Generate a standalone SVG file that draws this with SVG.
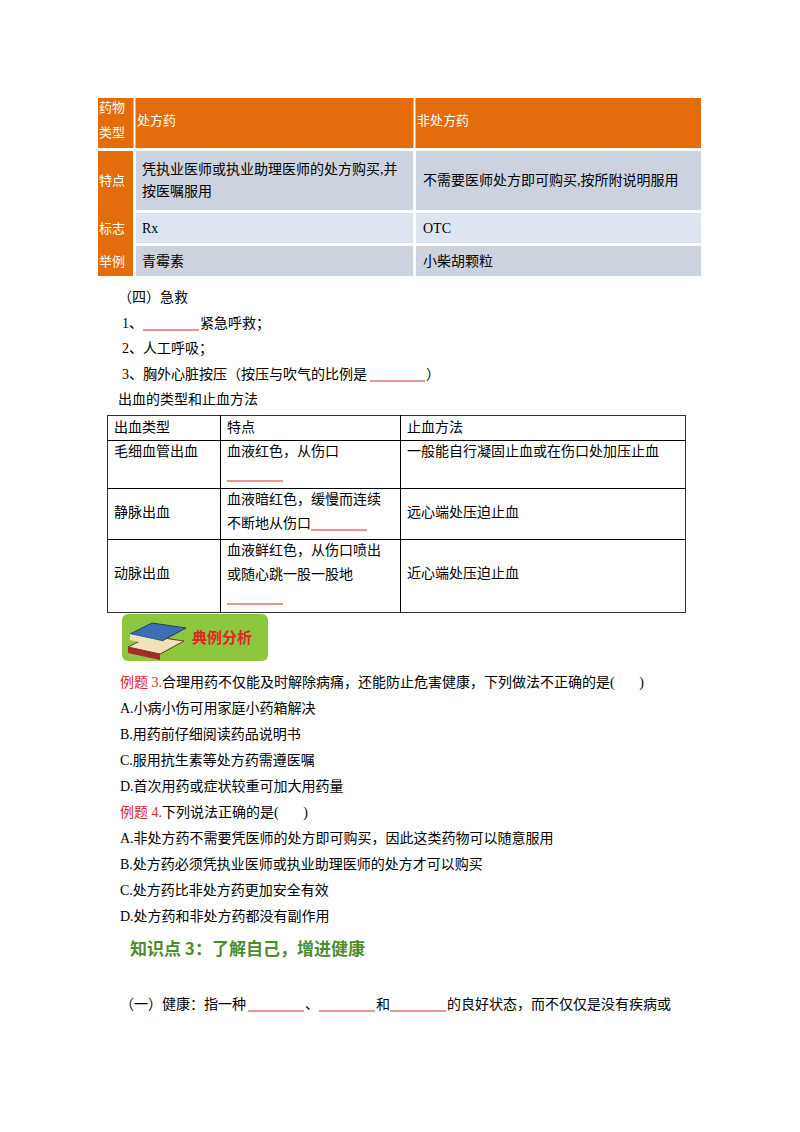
<svg xmlns="http://www.w3.org/2000/svg" width="800" height="1132" viewBox="0 0 800 1132">
<style>
text{font-family:"Liberation Serif","Noto Sans CJK SC",serif;font-size:14px;fill:#000;white-space:pre}
.o{fill:#E46C0A}.g{fill:#CDD3DE}.l{fill:#DCE5F0}
.w{fill:#fff;font-family:"Noto Sans CJK SC",sans-serif;font-size:13px}
.r{fill:#E0262B}
.u{stroke:#E0262B;stroke-width:1}
.k{stroke:#000;stroke-width:1}
.tb{fill:none;stroke:#333;stroke-width:1}
</style>
<rect width="800" height="1132" fill="#fff"/>
<g id="table1">
<rect class="o" x="98" y="98" width="603" height="50"/>
<rect class="o" x="98" y="151" width="35" height="125"/>
<rect class="g" x="136" y="151" width="277" height="59"/><rect class="g" x="416" y="151" width="285" height="59"/>
<rect class="l" x="136" y="213" width="277" height="30"/><rect class="l" x="416" y="213" width="285" height="30"/>
<rect class="g" x="136" y="246" width="277" height="30"/><rect class="g" x="416" y="246" width="285" height="30"/>
<line x1="134.5" y1="98" x2="134.5" y2="148" stroke="#fff" stroke-width="2"/>
<line x1="414.5" y1="98" x2="414.5" y2="148" stroke="#fff" stroke-width="2"/>
<text class="w" x="99" y="112">药物</text><text class="w" x="99" y="137">类型</text>
<text class="w" x="137" y="125">处方药</text><text class="w" x="417" y="125">非处方药</text>
<text class="w" x="99" y="185">特点</text><text class="w" x="99" y="233">标志</text><text class="w" x="99" y="266">举例</text>
<text x="142" y="174">凭执业医师或执业助理医师的处方购买,并</text>
<text x="142" y="196">按医嘱服用</text>
<text x="423" y="185">不需要医师处方即可购买,按所附说明服用</text>
<text x="142" y="233">Rx</text><text x="423" y="233">OTC</text>
<text x="142" y="266">青霉素</text><text x="423" y="266">小柴胡颗粒</text>
</g>
<g id="firstaid">
<text x="118" y="302">（四）急救</text>
<text x="122" y="328">1、</text><line class="u" x1="143" y1="330" x2="199" y2="330"/><text x="200" y="328">紧急呼救；</text>
<text x="122" y="353">2、人工呼吸；</text>
<text x="122" y="379">3、胸外心脏按压（按压与吹气的比例是</text><line class="u" x1="370" y1="381" x2="425" y2="381"/><text x="426" y="379">）</text>
<text x="118" y="404">出血的类型和止血方法</text>
</g>
<g id="table2">
<rect class="tb" x="107.5" y="415.5" width="578" height="197"/>
<line class="k" x1="107" y1="440.5" x2="686" y2="440.5"/>
<line class="k" x1="107" y1="488.5" x2="686" y2="488.5"/>
<line class="k" x1="107" y1="539.5" x2="686" y2="539.5"/>
<line class="k" x1="220.5" y1="415" x2="220.5" y2="613"/>
<line class="k" x1="400.5" y1="415" x2="400.5" y2="613"/>
<text x="114" y="432">出血类型</text><text x="227" y="432">特点</text><text x="407" y="432">止血方法</text>
<text x="114" y="456">毛细血管出血</text><text x="227" y="456">血液红色，从伤口</text><line class="u" x1="227" y1="481" x2="283" y2="481"/>
<text x="407" y="456">一般能自行凝固止血或在伤口处加压止血</text>
<text x="114" y="517">静脉出血</text><text x="227" y="504">血液暗红色，缓慢而连续</text><text x="227" y="528">不断地从伤口</text><line class="u" x1="311" y1="530" x2="367" y2="530"/>
<text x="407" y="517">远心端处压迫止血</text>
<text x="114" y="578">动脉出血</text><text x="227" y="555">血液鲜红色，从伤口喷出</text><text x="227" y="579">或随心跳一股一股地</text><line class="u" x1="227" y1="604" x2="283" y2="604"/>
<text x="407" y="578">近心端处压迫止血</text>
</g>
<g id="icon">
<rect x="122" y="614" width="146" height="47" rx="6" fill="#8DC63F"/>
<path d="M128 647 L150 636 L184 641 L160 654 Z" fill="#F2E2B8" stroke="#6b3a2a"/>
<path d="M128 647 L160 654 L160 660 L128 653 Z" fill="#A42A24"/>
<path d="M130 634 L152 623 L186 628 L162 641 Z" fill="#3C6EB4" stroke="#1f3d6e"/>
<path d="M130 634 L162 641 L162 647 L130 640 Z" fill="#F2E2B8"/>
<text x="192" y="643" style="font-family:'Noto Sans CJK SC',sans-serif;font-weight:bold;font-size:15px;fill:#E0262B">典例分析</text>
</g>
<g id="examples">
<text x="120" y="687"><tspan class="r">例题 3.</tspan>合理用药不仅能及时解除病痛，还能防止危害健康，下列做法不正确的是(       )</text>
<text x="120" y="713">A.小病小伤可用家庭小药箱解决</text>
<text x="120" y="739">B.用药前仔细阅读药品说明书</text>
<text x="120" y="765">C.服用抗生素等处方药需遵医嘱</text>
<text x="120" y="791">D.首次用药或症状较重可加大用药量</text>
<text x="120" y="817"><tspan class="r">例题 4.</tspan>下列说法正确的是(       )</text>
<text x="120" y="843">A.非处方药不需要凭医师的处方即可购买，因此这类药物可以随意服用</text>
<text x="120" y="869">B.处方药必须凭执业医师或执业助理医师的处方才可以购买</text>
<text x="120" y="895">C.处方药比非处方药更加安全有效</text>
<text x="120" y="921">D.处方药和非处方药都没有副作用</text>
</g>
<g id="section3">
<text x="130" y="955" style="font-family:'Noto Sans CJK SC',sans-serif;font-weight:bold;font-size:17px;fill:#4E8C2E">知识点 3：了解自己，增进健康</text>
<text x="120" y="1009">（一）健康：指一种</text><line class="u" x1="248" y1="1011" x2="304" y2="1011"/>
<text x="305" y="1009">、</text><line class="u" x1="319" y1="1011" x2="375" y2="1011"/>
<text x="376" y="1009">和</text><line class="u" x1="390" y1="1011" x2="446" y2="1011"/>
<text x="447" y="1009">的良好状态，而不仅仅是没有疾病或</text>
</g>
</svg>
